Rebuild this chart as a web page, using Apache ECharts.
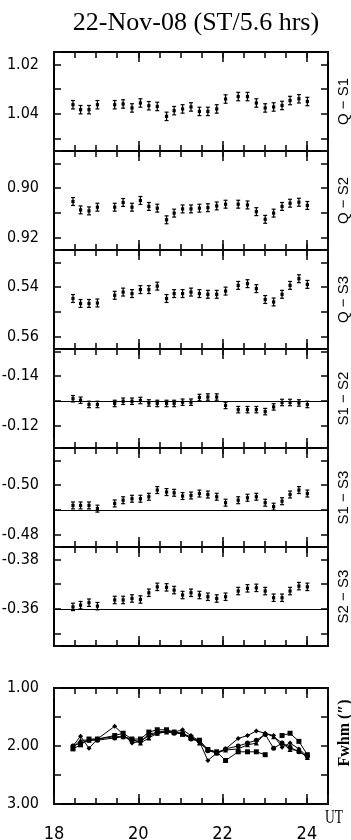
<!DOCTYPE html>
<html>
<head>
<meta charset="utf-8">
<script src="https://cdn.jsdelivr.net/npm/echarts@6/dist/echarts.min.js"></script>
<style>
  html, body { margin: 0; padding: 0; background: #fff; }
  #chart { width: 351px; height: 840px; }
</style>
</head>
<body>
<div id="chart"></div>
<script>
// UT hours of each observation
const HOURS = [18.45, 18.63, 18.83, 19.03, 19.44, 19.64, 19.85, 20.05, 20.25, 20.45, 20.67, 20.85, 21.05, 21.25,
  21.45, 21.65, 21.86, 22.07, 22.37, 22.59, 22.80, 23.01, 23.21, 23.41, 23.60, 23.81, 24.01]

// Differential values per pair
const Q_S1 = [1.0363, 1.0383, 1.0383, 1.0363, 1.0363, 1.0360, 1.0376, 1.0356, 1.0367, 1.0370, 1.0410, 1.0387, 1.0380, 1.0372,
  1.0390, 1.0390, 1.0380, 1.0340, 1.0330, 1.0330, 1.0356, 1.0376, 1.0372, 1.0366, 1.0346, 1.0339, 1.0350]
const Q_S2 = [0.9054, 0.9088, 0.9092, 0.9077, 0.9077, 0.9058, 0.9077, 0.9050, 0.9074, 0.9081, 0.9128, 0.9101, 0.9084, 0.9084,
  0.9081, 0.9079, 0.9072, 0.9065, 0.9065, 0.9068, 0.9095, 0.9126, 0.9101, 0.9074, 0.9061, 0.9057, 0.9070]
const Q_S3 = [0.5446, 0.5466, 0.5466, 0.5464, 0.5433, 0.5420, 0.5426, 0.5410, 0.5410, 0.5396, 0.5446, 0.5426, 0.5426, 0.5420,
  0.5426, 0.5429, 0.5429, 0.5416, 0.5393, 0.5386, 0.5406, 0.5450, 0.5460, 0.5429, 0.5393, 0.5366, 0.5389]
const S1_S2 = [-0.1309, -0.1303, -0.1286, -0.1286, -0.1290, -0.1299, -0.1299, -0.1302, -0.1292, -0.1290, -0.1290, -0.1290, -0.1295, -0.1295,
  -0.1314, -0.1316, -0.1316, -0.1282, -0.1265, -0.1265, -0.1265, -0.1257, -0.1276, -0.1294, -0.1294, -0.1292, -0.1286]
const S1_S3 = [-0.4918, -0.4918, -0.4918, -0.4905, -0.4926, -0.4939, -0.4945, -0.4945, -0.4953, -0.4980, -0.4972, -0.4969, -0.4956, -0.4958,
  -0.4966, -0.4962, -0.4953, -0.4929, -0.4939, -0.4949, -0.4953, -0.4929, -0.4913, -0.4935, -0.4962, -0.4980, -0.4966]
const S2_S3 = [-0.3608, -0.3615, -0.3625, -0.3611, -0.3636, -0.3636, -0.3642, -0.3638, -0.3665, -0.3689, -0.3687, -0.3676, -0.3656, -0.3665,
  -0.3656, -0.3649, -0.3642, -0.3649, -0.3672, -0.3683, -0.3685, -0.3672, -0.3645, -0.3645, -0.3672, -0.3692, -0.3689]

// Error bar half-length per panel
const ERR_HALF = [0.0017, 0.0016, 0.0016, 0.0013, 0.0014, 0.0015]
// Mean lines (only the S-S pairs have one)
const MEAN_LINES = [null, null, null, -0.1279, -0.4942, -0.3646]

const PANEL_NAMES = ['Q − S1', 'Q − S2', 'Q − S3', 'S1 − S2', 'S1 − S3', 'S2 − S3']
const PANEL_DATA = [Q_S1, Q_S2, Q_S3, S1_S2, S1_S3, S2_S3]
// each panel spans 0.04, ticks every 0.01 (splitNumber 4)
const Y_RANGES = [[1.015, 1.055], [0.885, 0.925], [0.525, 0.565], [-0.151, -0.111], [-0.515, -0.475], [-0.385, -0.345]]
const Y_LABELS = [[1.02, 1.04], [0.90, 0.92], [0.54, 0.56], [-0.14, -0.12], [-0.50, -0.48], [-0.38, -0.36]]

// Seeing (FWHM, arcsec) per telescope
const FWHM_A = [2.00, 1.83, 2.04, 1.88, 1.66, 1.80, 1.95, 1.92, 1.80, 1.76, 1.74, 1.76, 1.72, 1.82,
  1.92, 2.25, 2.12, 2.05, 1.87, 1.82, 1.74, 1.78, 1.82, 2.02, 1.95, 2.05, 2.18]
const FWHM_B = [2.05, 1.98, 1.88, 1.88, 1.82, 1.78, 1.88, 1.88, 1.76, 1.72, 1.72, 1.76, 1.80, 1.86,
  1.90, 2.06, 2.10, 2.25, 2.10, 2.10, 2.10, 2.15, null, 1.82, 1.78, 1.92, 2.15]
const FWHM_C = [2.02, 1.90, 1.90, 1.88, 1.84, 1.84, 1.88, 1.95, 1.86, 1.78, 1.76, 1.76, 1.78, 1.85,
  1.95, 2.06, 2.12, 2.07, 2.05, 1.98, 1.95, 1.78, 1.84, 1.95, 2.06, 2.08, 2.20]
const FWHM_D = [2.00, 1.95, 1.90, 1.90, 1.86, 1.84, 1.90, 1.92, 1.82, 1.78, 1.75, 1.78, 1.78, 1.88,
  1.92, 2.08, 2.12, 2.05, 2.00, 1.95, 1.90, 1.80, 2.04, 1.95, 2.02, 2.10, 2.18]
const FWHM_SERIES = [FWHM_A, FWHM_B, FWHM_C, FWHM_D]
const FWHM_SYMBOLS = ['diamond', 'rect', 'triangle', 'circle']
const FWHM_RANGE = [1, 3]
const FWHM_LABELS = [1, 2, 3]

const X_RANGE = [18, 24.5]
const X_MAJOR_STEP = 2
const X_MINOR_STEP = 0.5
const X_LABELS = [18, 20, 22, 24]

// layout
const LEFT = 54
const WIDTH = 274
const PANEL_TOPS = [52, 151, 250, 349, 448, 547]
const PANEL_H = 99
const FWHM_TOP = 688
const FWHM_H = 116

const NUM_FONT = "'DejaVu Sans Condensed', 'Liberation Sans', sans-serif"

const chart = echarts.init(document.getElementById('chart'))

const grids = []
const xAxes = []
const yAxes = []
const series = []

const frame = () => ({ show: true, lineStyle: { color: '#000', width: 2 } })
const ticks = (len) => ({ show: true, inside: true, length: len, lineStyle: { color: '#111', width: 1.6 } })

function makeGrid(top, height) {
  return { left: LEFT, top: top, width: WIDTH, height: height, show: false, containLabel: false,
    outerBoundsMode: 'none' }
}

// 4 x axes per grid: major/minor ticks at bottom and top
function addXAxes(g, withLabels) {
  ;['bottom', 'top'].forEach((pos) => {
    xAxes.push({
      type: 'value', gridIndex: g, position: pos, min: X_RANGE[0], max: X_RANGE[1], interval: X_MAJOR_STEP,
      axisLine: frame(), splitLine: { show: false }, axisTick: ticks(10),
      axisLabel: withLabels && pos === 'bottom'
        ? { show: true, margin: 21, fontFamily: NUM_FONT, fontSize: 18, color: '#000',
            formatter: (v) => (X_LABELS.indexOf(v) >= 0 ? String(v) : '') }
        : { show: false },
    })
    xAxes.push({
      type: 'value', gridIndex: g, position: pos, min: X_RANGE[0], max: X_RANGE[1], interval: X_MINOR_STEP,
      axisLine: frame(), splitLine: { show: false }, axisTick: ticks(6),
      axisLabel: { show: false },
    })
  })
}

function addYAxes(g, range, labels) {
  ;['left', 'right'].forEach((pos) => {
    yAxes.push({
      type: 'value', gridIndex: g, position: pos, inverse: true, min: range[0], max: range[1], splitNumber: 4,
      axisLine: frame(), splitLine: { show: false }, axisTick: ticks(7),
      axisLabel: pos === 'left'
        ? { show: true, margin: 15, fontFamily: NUM_FONT, fontSize: 16, color: '#000',
            showMinLabel: true, showMaxLabel: true,
            formatter: (v) => (labels.some((l) => Math.abs(l - v) < 1e-7) ? Number(v).toFixed(2) : '') }
        : { show: false },
    })
  })
}

const errorBarRender = (params, api) => {
  const x = api.value(0)
  const v = api.value(1)
  const e = api.value(2)
  const c = api.coord([x, v])
  const lo = api.coord([x, v - e])
  const hi = api.coord([x, v + e])
  const stroke = { stroke: '#000', lineWidth: 1.2 }
  return {
    type: 'group',
    children: [
      { type: 'line', shape: { x1: c[0], y1: lo[1], x2: c[0], y2: hi[1] }, style: stroke },
      { type: 'line', shape: { x1: c[0] - 2, y1: lo[1], x2: c[0] + 2, y2: lo[1] }, style: stroke },
      { type: 'line', shape: { x1: c[0] - 2, y1: hi[1], x2: c[0] + 2, y2: hi[1] }, style: stroke },
      { type: 'rect', shape: { x: c[0] - 1.6, y: c[1] - 1.6, width: 3.2, height: 3.2 }, style: { fill: '#000' } },
    ],
  }
}

PANEL_DATA.forEach((vals, g) => {
  grids.push(makeGrid(PANEL_TOPS[g], PANEL_H))
  addXAxes(g, false)
  addYAxes(g, Y_RANGES[g], Y_LABELS[g])
  const s = {
    type: 'custom',
    name: PANEL_NAMES[g],
    xAxisIndex: g * 4,
    yAxisIndex: g * 2,
    renderItem: errorBarRender,
    data: vals.map((v, i) => [HOURS[i], v, ERR_HALF[g]]),
    z: 3,
  }
  if (MEAN_LINES[g] != null) {
    s.markLine = {
      symbol: 'none', silent: true, label: { show: false },
      lineStyle: { color: '#000', width: 1, type: 'solid' },
      data: [{ yAxis: MEAN_LINES[g] }],
    }
  }
  series.push(s)
})

// FWHM panel
const fg = 6
grids.push(makeGrid(FWHM_TOP, FWHM_H))
addXAxes(fg, true)
addYAxes(fg, FWHM_RANGE, FWHM_LABELS)
FWHM_SERIES.forEach((vals, k) => {
  series.push({
    type: 'line',
    xAxisIndex: fg * 4,
    yAxisIndex: fg * 2,
    symbol: FWHM_SYMBOLS[k],
    symbolSize: 5,
    connectNulls: false,
    lineStyle: { color: '#000', width: 1 },
    itemStyle: { color: '#000' },
    data: vals.map((v, i) => [HOURS[i], v]),
    z: 3,
  })
})

// text decorations
const texts = [{
  type: 'text', x: 196, y: 23,
  style: { text: '22-Nov-08 (ST/5.6 hrs)', fontFamily: "'Liberation Serif', serif", fontSize: 26, fill: '#000',
    align: 'center', verticalAlign: 'middle' },
}]
PANEL_NAMES.forEach((name, g) => {
  texts.push({
    type: 'text', x: 344, y: PANEL_TOPS[g] + PANEL_H / 2, rotation: Math.PI / 2,
    style: { text: name, fontFamily: "'Liberation Sans', sans-serif", fontSize: 15, fill: '#000',
      align: 'center', verticalAlign: 'middle' },
  })
})
texts.push({
  type: 'text', x: 345, y: 733, rotation: Math.PI / 2,
  style: { text: 'Fwhm (″)', fontFamily: "'Liberation Serif', serif", fontWeight: 'bold', fontSize: 16, fill: '#000',
    align: 'center', verticalAlign: 'middle' },
})
texts.push({
  type: 'text', x: 334, y: 818, scaleX: 0.75,
  style: { text: 'UT', fontFamily: "'Liberation Serif', serif", fontSize: 18, fill: '#000',
    align: 'center', verticalAlign: 'middle' },
})

chart.setOption({
  animation: false,
  backgroundColor: '#fff',
  grid: grids,
  xAxis: xAxes,
  yAxis: yAxes,
  series: series,
  graphic: { elements: texts },
})
</script>
</body>
</html>
